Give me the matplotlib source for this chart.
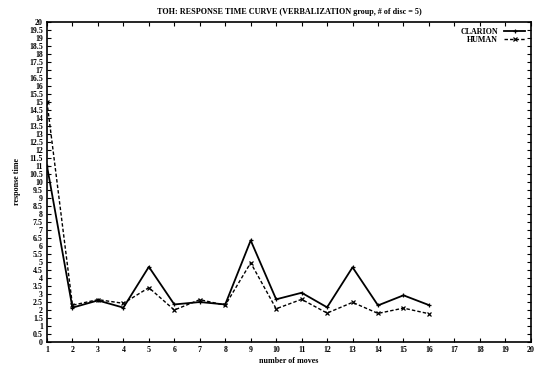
import matplotlib.pyplot as plt
import numpy as np

plt.rcParams['font.family'] = ['Liberation Serif', 'DejaVu Serif']
plt.rcParams['font.weight'] = 'bold'

# data
moves = list(range(1, 17))
clarion = [11.0, 2.15, 2.6, 2.15, 4.7, 2.35, 2.5, 2.35, 6.35, 2.67, 3.08, 2.17, 4.67, 2.29, 2.92, 2.31]
human = [15.0, 2.3, 2.65, 2.42, 3.4, 2.0, 2.65, 2.3, 4.95, 2.08, 2.67, 1.81, 2.48, 1.79, 2.12, 1.77]

x_ticks = list(range(1, 21))
y_ticks = np.arange(0, 20.5, 0.5)
y_labels = ['%g' % v for v in y_ticks]

fig = plt.figure(figsize=(5.34, 3.71), dpi=100)
ax = fig.add_axes([0.088, 0.078, 0.906, 0.863])

ax.plot(moves, clarion, color='black', linestyle='-', linewidth=1.3,
        marker='+', markersize=3, markeredgewidth=0.9, label='CLARION')
ax.plot(moves, human, color='black', linestyle=(0, (2.5, 1.5)), linewidth=1.0,
        marker='x', markersize=2.5, markeredgewidth=0.9, label='HUMAN')

ax.set_xlim(1, 20)
ax.set_ylim(0, 20)
ax.set_xticks(x_ticks)
ax.set_yticks(y_ticks)
ax.set_yticklabels(y_labels)
ax.tick_params(direction='in', top=True, right=True, labelsize=5.7, length=3, width=0.8, pad=3)
for s in ax.spines.values():
    s.set_linewidth(1.2)

ax.set_title('TOH: RESPONSE TIME CURVE (VERBALIZATION group, # of disc = 5)',
             fontsize=5.9, fontweight='bold', pad=6)
ax.set_xlabel('number of moves', fontsize=5.8, fontweight='bold', labelpad=2)
ax.set_ylabel('response time', fontsize=5.8, fontweight='bold', labelpad=6)

leg = ax.legend(loc='upper right', frameon=False, fontsize=5.8, markerfirst=False,
                handlelength=2.6, handletextpad=0.8, labelspacing=0.05,
                borderaxespad=0.3)

fig.savefig('out.png', dpi=100)
